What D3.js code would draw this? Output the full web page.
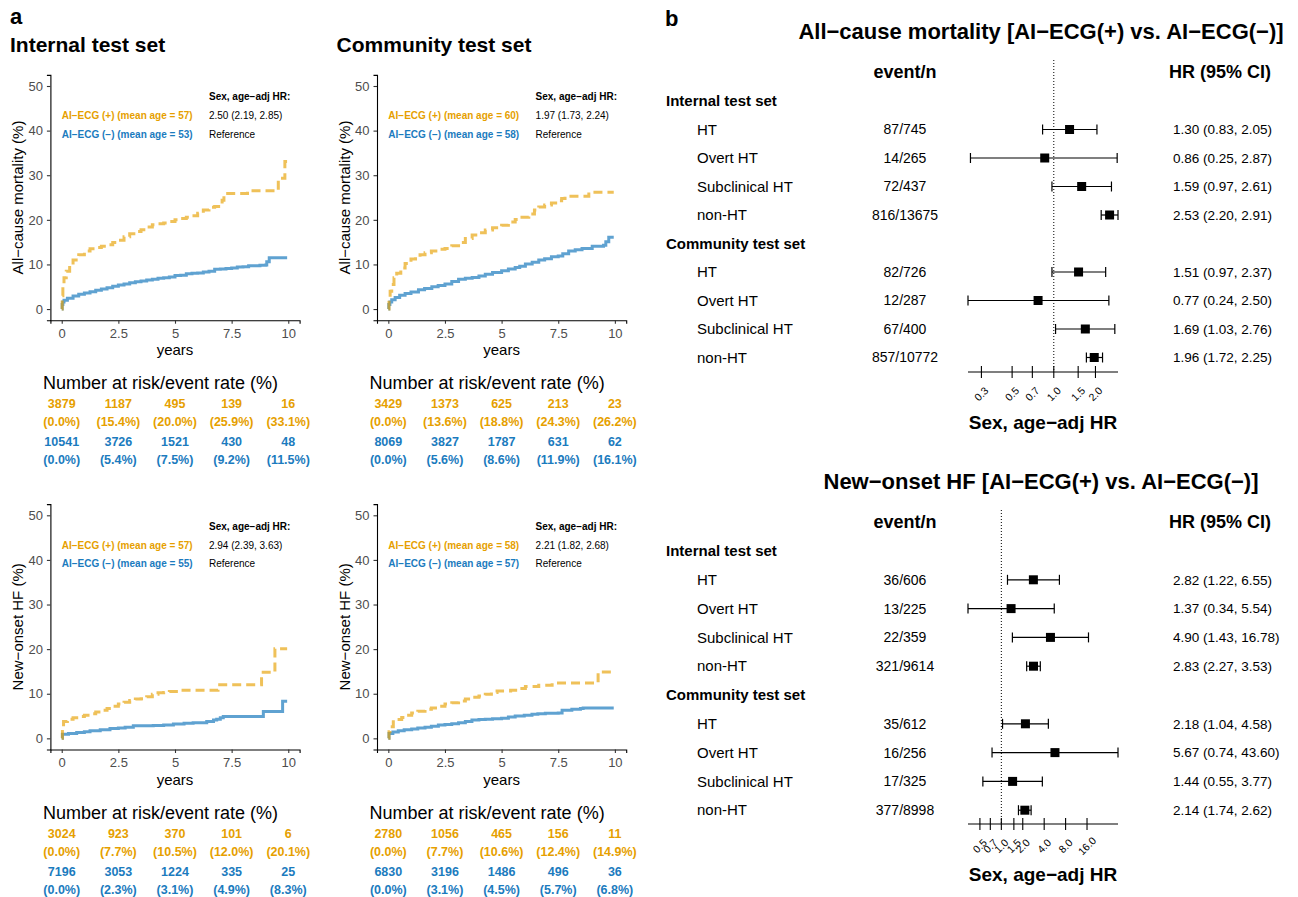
<!DOCTYPE html>
<html>
<head>
<meta charset="utf-8">
<script src="https://cdn.jsdelivr.net/npm/d3@7"></script>
<style>
  body { margin: 0; background: #fff; }
  text { font-family: "Liberation Sans", Arial, Helvetica, sans-serif; }
</style>
</head>
<body>
<svg id="chart" width="1298" height="897"></svg>
<script>
// ---------- Kaplan–Meier cumulative incidence (time in years, %) ----------
const intMortPos = [[0,0],[0.02,3],[0.05,5.5],[0.1,7],[0.2,8.5],[0.35,10],[0.5,11],[0.75,12.2],[1,13],[1.25,13.5],[1.5,13.8],[1.75,14.1],[2,14.4],[2.25,14.9],[2.5,15.4],[2.75,16.2],[3,16.9],[3.25,17.4],[3.5,17.8],[3.75,18.4],[4,18.9],[4.25,19.1],[4.5,19.3],[4.75,19.6],[5,20.0],[5.25,20.3],[5.5,20.6],[5.75,20.9],[6,21.5],[6.25,22.2],[6.5,22.8],[6.75,23.0],[7,23.4],[7.08,24.4],[7.16,25.9],[8.2,26.5],[9.56,29.3],[9.85,33.1],[9.95,33.1]];
const intMortNeg = [[0,0],[0.02,1.0],[0.05,1.6],[0.1,2.0],[0.25,2.4],[0.5,2.9],[0.75,3.3],[1,3.6],[1.25,3.9],[1.5,4.2],[1.75,4.5],[2,4.8],[2.25,5.1],[2.5,5.4],[2.75,5.6],[3,5.9],[3.25,6.1],[3.5,6.3],[3.75,6.5],[4,6.7],[4.25,6.9],[4.5,7.0],[4.75,7.2],[5,7.5],[5.25,7.6],[5.5,7.9],[5.75,8.0],[6,8.1],[6.25,8.3],[6.5,8.5],[6.75,8.9],[7,9.0],[7.25,9.1],[7.5,9.2],[7.75,9.4],[8,9.5],[8.25,9.7],[8.75,9.8],[9,9.9],[9.05,10.6],[9.16,11.5],[9.95,11.5]];
const comMortPos = [[0,0],[0.03,2.5],[0.08,4.0],[0.15,5.5],[0.25,7],[0.37,8],[0.55,9.2],[0.74,10.2],[1,11.2],[1.2,11.7],[1.4,12.2],[1.62,12.6],[1.9,13.0],[2.2,13.4],[2.5,13.6],[2.8,14.2],[3.1,14.9],[3.4,15.8],[3.7,16.6],[4,17.1],[4.28,17.7],[4.6,18.2],[5,18.8],[5.3,19.5],[5.6,20.1],[5.9,20.6],[6.2,21.3],[6.45,22.2],[6.64,22.9],[6.9,23.3],[7.2,23.8],[7.5,24.3],[7.65,24.8],[7.8,25.3],[8.85,26.2],[9.95,26.2]];
const comMortNeg = [[0,0],[0.02,1.0],[0.07,1.6],[0.15,2.1],[0.3,2.6],[0.5,3.1],[0.74,3.5],[1,3.8],[1.33,4.3],[1.6,4.6],[1.92,5.0],[2.2,5.3],[2.5,5.6],[2.8,6.2],[3.1,6.7],[3.4,6.9],[3.7,7.1],[4,7.4],[4.28,7.8],[4.6,8.2],[5,8.6],[5.3,9.0],[5.6,9.3],[5.8,9.6],[6.05,10.1],[6.35,10.5],[6.64,11.0],[6.9,11.3],[7.2,11.7],[7.5,11.9],[7.7,12.4],[7.96,13.0],[8.25,13.3],[8.55,13.6],[9,14.1],[9.5,14.3],[9.6,15.1],[9.73,16.1],[9.95,16.1]];
const intHfPos = [[0,0],[0.03,2.5],[0.08,3.8],[0.25,4.3],[0.5,4.6],[0.75,4.9],[1,5.2],[1.25,5.5],[1.5,5.9],[1.75,6.3],[2,6.7],[2.25,7.2],[2.5,7.7],[2.75,8.1],[3,8.5],[3.25,8.8],[3.5,8.9],[3.75,9.3],[4,9.9],[4.25,10.2],[4.5,10.3],[4.75,10.5],[5.2,10.8],[6.9,12.0],[8.82,14.8],[9.41,20.1],[9.95,20.1]];
const intHfNeg = [[0,0],[0.03,0.9],[0.3,1.1],[0.66,1.3],[1,1.5],[1.25,1.7],[1.7,1.9],[2.13,2.2],[2.5,2.3],[2.8,2.5],[3.16,2.8],[3.6,2.8],[4.04,2.9],[4.5,3.0],[4.93,3.2],[5.4,3.4],[5.8,3.5],[6.4,3.8],[6.7,4.1],[6.84,4.3],[7.0,4.6],[7.13,4.9],[8.9,6.0],[9.75,8.3],[9.95,8.3]];
const comHfPos = [[0,0],[0.03,1.5],[0.07,2.6],[0.22,3.7],[0.4,4.2],[0.59,4.7],[0.8,5.2],[1.03,5.7],[1.3,6.1],[1.62,6.5],[1.9,6.8],[2.21,7.2],[2.5,7.7],[2.8,8.0],[3.1,8.4],[3.4,8.8],[3.69,9.2],[4,9.5],[4.28,9.9],[4.55,10.3],[4.8,10.6],[5.4,10.8],[5.7,11.2],[6.05,11.6],[6.64,11.9],[7.23,12.4],[9.26,14.9],[9.95,14.9]];
const comHfNeg = [[0,0],[0.03,1.1],[0.2,1.4],[0.44,1.7],[0.7,1.9],[1.03,2.1],[1.3,2.3],[1.62,2.5],[1.9,2.7],[2.21,3.0],[2.5,3.1],[2.8,3.3],[3.1,3.5],[3.4,3.8],[3.69,4.1],[4,4.2],[4.28,4.3],[4.6,4.4],[5,4.5],[5.3,4.8],[5.6,5.0],[6,5.2],[6.34,5.4],[6.6,5.5],[6.93,5.6],[7.5,5.7],[7.67,6.3],[8.1,6.5],[8.48,6.7],[8.6,6.8],[9.95,6.8]];

// ---------- number at risk / event rate tables ----------
const riskYears = [0, 2.5, 5, 7.5, 10];
const intMortRiskPos = [3879, 1187, 495, 139, 16];
const intMortRatePos = [0.0, 15.4, 20.0, 25.9, 33.1];
const intMortRiskNeg = [10541, 3726, 1521, 430, 48];
const intMortRateNeg = [0.0, 5.4, 7.5, 9.2, 11.5];
const comMortRiskPos = [3429, 1373, 625, 213, 23];
const comMortRatePos = [0.0, 13.6, 18.8, 24.3, 26.2];
const comMortRiskNeg = [8069, 3827, 1787, 631, 62];
const comMortRateNeg = [0.0, 5.6, 8.6, 11.9, 16.1];
const intHfRiskPos = [3024, 923, 370, 101, 6];
const intHfRatePos = [0.0, 7.7, 10.5, 12.0, 20.1];
const intHfRiskNeg = [7196, 3053, 1224, 335, 25];
const intHfRateNeg = [0.0, 2.3, 3.1, 4.9, 8.3];
const comHfRiskPos = [2780, 1056, 465, 156, 11];
const comHfRatePos = [0.0, 7.7, 10.6, 12.4, 14.9];
const comHfRiskNeg = [6830, 3196, 1486, 496, 36];
const comHfRateNeg = [0.0, 3.1, 4.5, 5.7, 6.8];

const meanAgePos = [57, 60, 57, 58];
const meanAgeNeg = [53, 58, 55, 57];
const kmHRText = ["2.50 (2.19, 2.85)", "1.97 (1.73, 2.24)", "2.94 (2.39, 3.63)", "2.21 (1.82, 2.68)"];

const xTicksKM = [0, 2.5, 5, 7.5, 10];
const yTicksKM = [0, 10, 20, 30, 40, 50];

// ---------- forest plot data ----------
const subgroups = ["HT", "Overt HT", "Subclinical HT", "non-HT"];
const cohorts = ["Internal test set", "Community test set"];

const mortIntEvents = [87, 14, 72, 816];
const mortIntN = [745, 265, 437, 13675];
const mortIntHR = [1.30, 0.86, 1.59, 2.53];
const mortIntLo = [0.83, 0.25, 0.97, 2.20];
const mortIntHi = [2.05, 2.87, 2.61, 2.91];
const mortComEvents = [82, 12, 67, 857];
const mortComN = [726, 287, 400, 10772];
const mortComHR = [1.51, 0.77, 1.69, 1.96];
const mortComLo = [0.97, 0.24, 1.03, 1.72];
const mortComHi = [2.37, 2.50, 2.76, 2.25];
const mortTicks = [0.3, 0.5, 0.7, 1.0, 1.5, 2.0];

const hfIntEvents = [36, 13, 22, 321];
const hfIntN = [606, 225, 359, 9614];
const hfIntHR = [2.82, 1.37, 4.90, 2.83];
const hfIntLo = [1.22, 0.34, 1.43, 2.27];
const hfIntHi = [6.55, 5.54, 16.78, 3.53];
const hfComEvents = [35, 16, 17, 377];
const hfComN = [612, 256, 325, 8998];
const hfComHR = [2.18, 5.67, 1.44, 2.14];
const hfComLo = [1.04, 0.74, 0.55, 1.74];
const hfComHi = [4.58, 43.60, 3.77, 2.62];
const hfTicks = [0.5, 0.7, 1.0, 1.5, 2.0, 4.0, 8.0, 16.0];

// ---------- styling ----------
const ORANGE = "#E69F00";
const BLUE = "#1B7BBE";
const svg = d3.select("#chart");

function txt(g, x, y, s, opt = {}) {
  return g.append("text")
    .attr("x", x).attr("y", y).attr("dy", "0.35em")
    .attr("text-anchor", opt.anchor || "start")
    .attr("font-size", opt.size || 12)
    .attr("font-weight", opt.bold ? "bold" : "normal")
    .attr("fill", opt.color || "#000")
    .text(s);
}

// panel letters
txt(svg, 10, 16, "a", { size: 22, bold: true });
txt(svg, 665, 18, "b", { size: 22, bold: true });

// ---------- Kaplan–Meier panel ----------
function drawKM(cfg) {
  const g = svg.append("g").attr("transform", `translate(${cfg.dx},${cfg.dy})`);
  const x = d3.scaleLinear().domain([-0.5, 10.5]).range([50.4, 299.6]);
  const y = d3.scaleLinear().domain([-2.5, 52.5]).range([320.2, 74.85]);

  if (cfg.title) txt(g, 10, 45, cfg.title, { size: 21, bold: true });

  // axes
  const ya = g.append("g").attr("transform", `translate(${x.range()[0]},0)`)
    .call(d3.axisLeft(y).tickValues(yTicksKM).tickSizeOuter(0).tickSize(3.5).tickPadding(4));
  const xa = g.append("g").attr("transform", `translate(0,${y.range()[0]})`)
    .call(d3.axisBottom(x).tickValues(xTicksKM).tickFormat(d3.format("~g")).tickSizeOuter(0).tickSize(3.5).tickPadding(5));
  [ya, xa].forEach(a => {
    a.select(".domain").attr("stroke", "#000").attr("stroke-width", 1.1);
    a.selectAll(".tick line").attr("stroke", "#333").attr("stroke-width", 1.1);
    a.selectAll(".tick text").attr("fill", "#4D4D4D").attr("font-size", 13)
      .style("font-family", '"Liberation Sans", Arial, sans-serif');
  });

  txt(g, 175, 350, "years", { size: 15, anchor: "middle" });
  g.append("text").attr("transform", `translate(18,${(y.range()[0] + y.range()[1]) / 2}) rotate(-90)`)
    .attr("text-anchor", "middle").attr("dy", "0.35em").attr("font-size", 15).text(cfg.ylab);

  // curves
  const line = d3.line().x(d => x(d[0])).y(d => y(d[1])).curve(d3.curveStepAfter);
  g.append("path").datum(cfg.neg).attr("d", line).attr("fill", "none")
    .attr("stroke", BLUE).attr("stroke-opacity", 0.7).attr("stroke-width", 3);
  g.append("path").datum(cfg.pos).attr("d", line).attr("fill", "none")
    .attr("stroke", ORANGE).attr("stroke-opacity", 0.65).attr("stroke-width", 3)
    .attr("stroke-dasharray", "9,5");

  // in-panel labels
  txt(g, x(6.5), y(47.6), "Sex, age\u2212adj HR:", { size: 10, bold: true });
  txt(g, x(0), y(43.3), `AI\u2212ECG (+) (mean age = ${cfg.agePos})`, { size: 10, bold: true, color: ORANGE });
  txt(g, x(6.5), y(43.3), cfg.hr, { size: 10 });
  txt(g, x(0), y(39.2), `AI\u2212ECG (\u2212) (mean age = ${cfg.ageNeg})`, { size: 10, bold: true, color: BLUE });
  txt(g, x(6.5), y(39.2), "Reference", { size: 10 });

  // risk table
  txt(g, 160.5, 383, "Number at risk/event rate (%)", { size: 18, anchor: "middle" });
  riskYears.forEach((t, i) => {
    const o = { size: 12.5, bold: true, anchor: "middle" };
    txt(g, x(t), 404, cfg.riskPos[i], { ...o, color: ORANGE });
    txt(g, x(t), 422, `(${cfg.ratePos[i].toFixed(1)}%)`, { ...o, color: ORANGE });
    txt(g, x(t), 442, cfg.riskNeg[i], { ...o, color: BLUE });
    txt(g, x(t), 460, `(${cfg.rateNeg[i].toFixed(1)}%)`, { ...o, color: BLUE });
  });
}

const ylabMort = "All\u2212cause mortality (%)";
const ylabHf = "New\u2212onset HF (%)";
drawKM({ dx: 0, dy: 0, title: "Internal test set", ylab: ylabMort, pos: intMortPos, neg: intMortNeg,
  agePos: meanAgePos[0], ageNeg: meanAgeNeg[0], hr: kmHRText[0],
  riskPos: intMortRiskPos, ratePos: intMortRatePos, riskNeg: intMortRiskNeg, rateNeg: intMortRateNeg });
drawKM({ dx: 326.6, dy: 0, title: "Community test set", ylab: ylabMort, pos: comMortPos, neg: comMortNeg,
  agePos: meanAgePos[1], ageNeg: meanAgeNeg[1], hr: kmHRText[1],
  riskPos: comMortRiskPos, ratePos: comMortRatePos, riskNeg: comMortRiskNeg, rateNeg: comMortRateNeg });
drawKM({ dx: 0, dy: 429.3, ylab: ylabHf, pos: intHfPos, neg: intHfNeg,
  agePos: meanAgePos[2], ageNeg: meanAgeNeg[2], hr: kmHRText[2],
  riskPos: intHfRiskPos, ratePos: intHfRatePos, riskNeg: intHfRiskNeg, rateNeg: intHfRateNeg });
drawKM({ dx: 326.6, dy: 429.3, ylab: ylabHf, pos: comHfPos, neg: comHfNeg,
  agePos: meanAgePos[3], ageNeg: meanAgeNeg[3], hr: kmHRText[3],
  riskPos: comHfRiskPos, ratePos: comHfRatePos, riskNeg: comHfRiskNeg, rateNeg: comHfRateNeg });

// ---------- forest plot ----------
function drawForest(cfg) {
  const g = svg.append("g");
  const x = d3.scaleLog().domain(cfg.domain).range([968, 1118]);
  const fmt = v => v.toFixed(2);

  txt(g, 1041, cfg.titleY, cfg.title, { size: 22, bold: true, anchor: "middle" });
  txt(g, 905, cfg.headY, "event/n", { size: 18, bold: true, anchor: "middle" });
  txt(g, 1220, cfg.headY, "HR (95% CI)", { size: 18, bold: true, anchor: "middle" });

  // reference line at HR = 1
  g.append("line").attr("x1", x(1)).attr("x2", x(1))
    .attr("y1", cfg.dotTop).attr("y2", cfg.axisY)
    .attr("stroke", "#000").attr("stroke-width", 1).attr("stroke-dasharray", "1,2");

  cfg.groups.forEach((grp, gi) => {
    const base = cfg.firstY + gi * 5 * cfg.step;
    txt(g, 666, base, cohorts[gi], { size: 15, bold: true });
    subgroups.forEach((s, i) => {
      const yy = base + (i + 1) * cfg.step;
      txt(g, 697, yy, s, { size: 15 });
      txt(g, 905, yy, `${grp.events[i]}/${grp.n[i]}`, { size: 14, anchor: "middle" });
      txt(g, 1173, yy, `${fmt(grp.hr[i])} (${fmt(grp.lo[i])}, ${fmt(grp.hi[i])})`, { size: 13.5 });
      // CI whisker
      g.append("line").attr("x1", x(grp.lo[i])).attr("x2", x(grp.hi[i]))
        .attr("y1", yy).attr("y2", yy).attr("stroke", "#000").attr("stroke-width", 1.2);
      [grp.lo[i], grp.hi[i]].forEach(v => g.append("line")
        .attr("x1", x(v)).attr("x2", x(v)).attr("y1", yy - 5).attr("y2", yy + 5)
        .attr("stroke", "#000").attr("stroke-width", 1.2));
      g.append("rect").attr("x", x(grp.hr[i]) - 4.5).attr("y", yy - 4.5)
        .attr("width", 9).attr("height", 9).attr("fill", "#000");
    });
  });

  // log-scaled x axis
  g.append("line").attr("x1", 968).attr("x2", 1118).attr("y1", cfg.axisY).attr("y2", cfg.axisY)
    .attr("stroke", "#000").attr("stroke-width", 1.1);
  cfg.ticks.forEach(t => {
    g.append("line").attr("x1", x(t)).attr("x2", x(t))
      .attr("y1", cfg.axisY - 6).attr("y2", cfg.axisY + 6)
      .attr("stroke", "#000").attr("stroke-width", 1.1);
    g.append("text")
      .attr("transform", `translate(${x(t)},${cfg.axisY + 22}) rotate(-45)`)
      .attr("text-anchor", "middle").attr("dy", "0.35em").attr("font-size", 10.5)
      .text(t.toFixed(1));
  });
  txt(g, 1043, cfg.axisY + 50, "Sex, age\u2212adj HR", { size: 19, bold: true, anchor: "middle" });
}

drawForest({
  title: "All\u2212cause mortality [AI\u2212ECG(+) vs. AI\u2212ECG(\u2212)]",
  titleY: 31, headY: 72, firstY: 101, step: 28.5, axisY: 372, dotTop: 60,
  domain: [0.24, 2.91], ticks: mortTicks,
  groups: [
    { events: mortIntEvents, n: mortIntN, hr: mortIntHR, lo: mortIntLo, hi: mortIntHi },
    { events: mortComEvents, n: mortComN, hr: mortComHR, lo: mortComLo, hi: mortComHi }
  ]
});
drawForest({
  title: "New\u2212onset HF [AI\u2212ECG(+) vs. AI\u2212ECG(\u2212)]",
  titleY: 481, headY: 522, firstY: 551, step: 28.8, axisY: 824, dotTop: 510,
  domain: [0.34, 43.60], ticks: hfTicks,
  groups: [
    { events: hfIntEvents, n: hfIntN, hr: hfIntHR, lo: hfIntLo, hi: hfIntHi },
    { events: hfComEvents, n: hfComN, hr: hfComHR, lo: hfComLo, hi: hfComHi }
  ]
});
</script>
</body>
</html>
